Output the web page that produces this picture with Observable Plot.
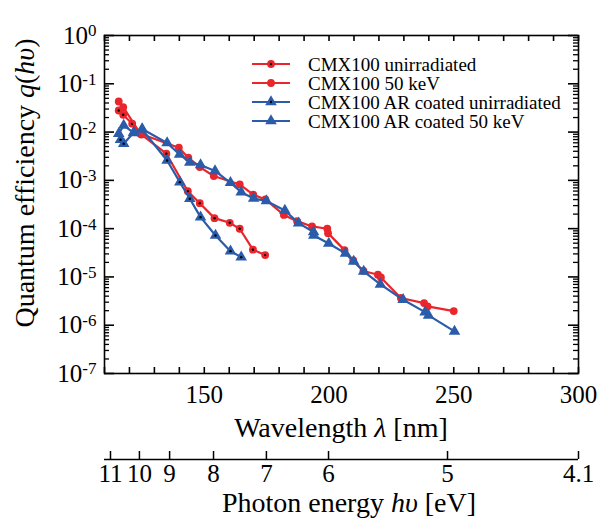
<!DOCTYPE html>
<html><head><meta charset="utf-8">
<script src="https://cdn.jsdelivr.net/npm/d3@7"></script>
<script src="https://cdn.jsdelivr.net/npm/@observablehq/plot@0.6"></script>
<style>
body{margin:0;background:#fff;}
#chart{width:610px;}
#chart svg{display:block;}
</style></head><body><div id="chart"></div>
<script>
// ---- data ----
const seriesNames = ["CMX100 unirradiated", "CMX100 50 keV", "CMX100 AR coated unirradiated", "CMX100 AR coated 50 keV"];

const cmxUnirrNm = [115.7, 117.5, 121.1, 124.8, 134.8, 143.4, 148.2, 154.1, 160.2, 164.2, 169.5, 174.4];
const cmxUnirrQ  = [0.0280, 0.0228, 0.0149, 0.0089, 0.00356, 5.97e-4, 3.37e-4, 1.65e-4, 1.32e-4, 9.95e-5, 3.67e-5, 2.83e-5];

const cmx50Nm = [115.7, 117.5, 124.4, 139.8, 143.6, 148.2, 153.8, 164.2, 169.6, 174.5, 181.9, 187.2, 193.2, 199.3, 199.6, 206.2, 209.7, 213.8, 219.6, 220.8, 228.8, 238.1, 239.5, 250.0];
const cmx50Q  = [0.0430, 0.0328, 0.00922, 0.00473, 0.00295, 0.00188, 0.00123, 8.22e-4, 5.04e-4, 4.02e-4, 1.92e-4, 1.43e-4, 1.11e-4, 9.95e-5, 8.07e-5, 3.59e-5, 2.20e-5, 1.33e-5, 1.11e-5, 9.77e-6, 3.67e-6, 2.87e-6, 2.45e-6, 1.96e-6];

const arUnirrNm = [116.4, 117.7, 121.7, 125.1, 135.1, 140.2, 144.2, 148.5, 154.5, 160.5, 164.8];
const arUnirrQ  = [0.00693, 0.00573, 0.00981, 0.0113, 0.00258, 9.18e-4, 4.16e-4, 1.73e-4, 7.23e-5, 3.42e-5, 2.57e-5];

const ar50Nm = [115.7, 117.7, 121.7, 125.1, 135.1, 140.1, 144.2, 148.5, 154.3, 160.5, 164.8, 169.8, 174.9, 182.3, 187.8, 193.8, 193.9, 199.9, 206.6, 209.9, 213.9, 220.6, 229.7, 238.5, 239.9, 250.3];
const ar50Q  = [0.00922, 0.0137, 0.00958, 0.0116, 0.00595, 0.00344, 0.00235, 0.00208, 0.00157, 8.91e-4, 5.70e-4, 4.22e-4, 3.74e-4, 2.38e-4, 1.30e-4, 8.55e-5, 7.23e-5, 4.94e-5, 3.07e-5, 2.09e-5, 1.30e-5, 7.0e-6, 3.37e-6, 1.87e-6, 1.60e-6, 7.44e-7];

const xTickLabels = [150, 200, 250, 300];
const xTickMarks = [110, 120, 130, 140, 150, 160, 170, 180, 190, 200, 210, 220, 230, 240, 250, 260, 270, 280, 290, 300];
const yExponents = [0, -1, -2, -3, -4, -5, -6, -7];
const energyLabels = ["11", "10", "9", "8", "7", "6", "5", "4.1"];
const energyTickNm = [112.4, 124.0, 136.1, 153.7, 174.9, 199.8, 247.5, 300.0];

// ---- styling ----
const RED = "#e8262b", BLUE = "#2b5caa";
const FONT = "'Liberation Serif', 'Times New Roman', serif";
const M = {left: 104, right: 32, top: 35, bottom: 72, width: 610, height: 445};
const xDomain = [110, 300], yDomain = [1e-7, 1];
const frameW = M.width - M.left - M.right, frameH = M.height - M.top - M.bottom;
const MAJ = 10, MIN = 5, XT = 6; // tick lengths in px

const seriesDefs = [
  {name: seriesNames[0], nm: cmxUnirrNm, q: cmxUnirrQ, color: RED, symbol: "circle", r: 3.9, center: true},
  {name: seriesNames[1], nm: cmx50Nm, q: cmx50Q, color: RED, symbol: "circle", r: 3.9, center: false},
  {name: seriesNames[2], nm: arUnirrNm, q: arUnirrQ, color: BLUE, symbol: "triangle", r: 4.3, center: true},
  {name: seriesNames[3], nm: ar50Nm, q: ar50Q, color: BLUE, symbol: "triangle", r: 4.3, center: false}
];
const toRows = s => s.nm.map((x, i) => ({x, q: s.q[i]}));

const yMajor = yExponents.map(e => Math.pow(10, e));
const yMinor = yExponents.slice(1).flatMap(e => [2,3,4,5,6,7,8,9].map(m => m * Math.pow(10, e)));

const seriesMarks = seriesDefs.flatMap(s => {
  const rows = toRows(s);
  const m = [
    Plot.line(rows, {x: "x", y: "q", stroke: s.color, strokeWidth: 2.2}),
    Plot.dot(rows, {x: "x", y: "q", symbol: s.symbol, r: s.r, fill: s.color, stroke: "none"})
  ];
  if (s.center) m.push(Plot.dot(rows, {x: "x", y: "q", r: 1.2, fill: "black", stroke: "none"}));
  return m;
});

const main = Plot.plot({
  width: M.width, height: M.height,
  marginLeft: M.left, marginRight: M.right, marginTop: M.top, marginBottom: M.bottom,
  x: {domain: xDomain},
  y: {type: "log", domain: yDomain},
  marks: [
    ...seriesMarks,
    Plot.frame({stroke: "black", strokeWidth: 1.6}),
    // inward ticks on all four sides
    Plot.tickX(xTickMarks, {x: d => d, insetTop: frameH - XT, stroke: "black", strokeWidth: 1.6}),
    Plot.tickX(xTickMarks, {x: d => d, insetBottom: frameH - XT, stroke: "black", strokeWidth: 1.6}),
    Plot.tickY(yMajor, {y: d => d, insetRight: frameW - MAJ, stroke: "black", strokeWidth: 1.6}),
    Plot.tickY(yMinor, {y: d => d, insetRight: frameW - MIN, stroke: "black", strokeWidth: 1.3}),
    Plot.tickY(yMajor, {y: d => d, insetLeft: frameW - MAJ, stroke: "black", strokeWidth: 1.6}),
    Plot.tickY(yMinor, {y: d => d, insetLeft: frameW - MIN, stroke: "black", strokeWidth: 1.3}),
    Plot.axisX(xTickLabels, {anchor: "bottom", tickSize: 0, tickPadding: 12, label: null}),
    Plot.axisY(yMajor, {anchor: "left", tickSize: 0, tickPadding: 8, label: null,
      tickFormat: d => "10^" + Math.round(Math.log10(d))})
  ]
});

const energy = Plot.plot({
  width: 610, height: 74,
  marginLeft: M.left, marginRight: M.right, marginTop: 6, marginBottom: 60,
  x: {domain: xDomain},
  y: {domain: [0, 1], axis: null},
  marks: [
    Plot.ruleY([0], {stroke: "black", strokeWidth: 1.5}),
    Plot.ruleX(energyTickNm, {x: d => d, y1: 0, y2: 1, stroke: "black", strokeWidth: 1.5}),
    Plot.axisX(energyTickNm, {anchor: "bottom", tickSize: 0, tickPadding: 5, label: null,
      tickFormat: d => energyLabels[energyTickNm.indexOf(d)]})
  ]
});

for (const svg of [main, energy]) {
  svg.setAttribute("font-family", FONT);
  svg.setAttribute("font-size", "25");
}

const NS = "http://www.w3.org/2000/svg";

// superscripts for the log labels
main.querySelectorAll("text").forEach(t => {
  const s = t.textContent;
  if (!/^10\^/.test(s)) return;
  const [b, e] = s.split("^");
  t.textContent = "";
  const t1 = document.createElementNS(NS, "tspan"); t1.textContent = b;
  const t2 = document.createElementNS(NS, "tspan"); t2.textContent = e;
  t2.setAttribute("dy", "-0.42em"); t2.setAttribute("font-size", "17px");
  t.append(t1, t2);
});

// titles with italic symbols
function richText(svg, parts, attrs) {
  const t = document.createElementNS(NS, "text");
  for (const [k, v] of Object.entries(attrs)) t.setAttribute(k, v);
  for (const [str, italic] of parts) {
    const sp = document.createElementNS(NS, "tspan");
    sp.textContent = str;
    if (italic) sp.setAttribute("font-style", "italic");
    t.append(sp);
  }
  svg.append(t);
  return t;
}
richText(main, [["Wavelength ", false], ["λ", true], [" [nm]", false]],
  {x: 341, y: 437, "text-anchor": "middle", "font-size": "28px", "font-family": FONT, fill: "black"});
richText(main, [["Quantum efficiency ", false], ["q", true], ["(", false], ["hυ", true], [")", false]],
  {transform: "translate(34,183) rotate(-90)", "text-anchor": "middle", "font-size": "28px", "font-family": FONT, fill: "black"});
richText(energy, [["Photon energy ", false], ["hυ", true], [" [eV]", false]],
  {x: 349, y: 67, "text-anchor": "middle", "font-size": "28px", "font-family": FONT, fill: "black"});

// legend
const legendRowsY = [64, 83, 102, 121];
const lg = d3.select(main).append("g").attr("font-family", FONT).attr("font-size", "19px").attr("text-anchor", "start");
seriesDefs.forEach((s, i) => {
  const y = legendRowsY[i];
  lg.append("line").attr("x1", 252).attr("x2", 290).attr("y1", y).attr("y2", y)
    .attr("stroke", s.color).attr("stroke-width", 2.2);
  const sym = s.symbol === "circle" ? d3.symbolCircle : d3.symbolTriangle;
  lg.append("path").attr("d", d3.symbol(sym, Math.PI * s.r * s.r)())
    .attr("transform", `translate(271,${y})`).attr("fill", s.color);
  if (s.center) lg.append("circle").attr("cx", 271).attr("cy", y).attr("r", 1.2).attr("fill", "black");
  lg.append("text").attr("x", 308).attr("y", y).attr("dy", "0.35em").attr("text-anchor", "start")
    .attr("fill", "black").text(s.name);
});

document.getElementById("chart").append(main, energy);
</script>
</body></html>
